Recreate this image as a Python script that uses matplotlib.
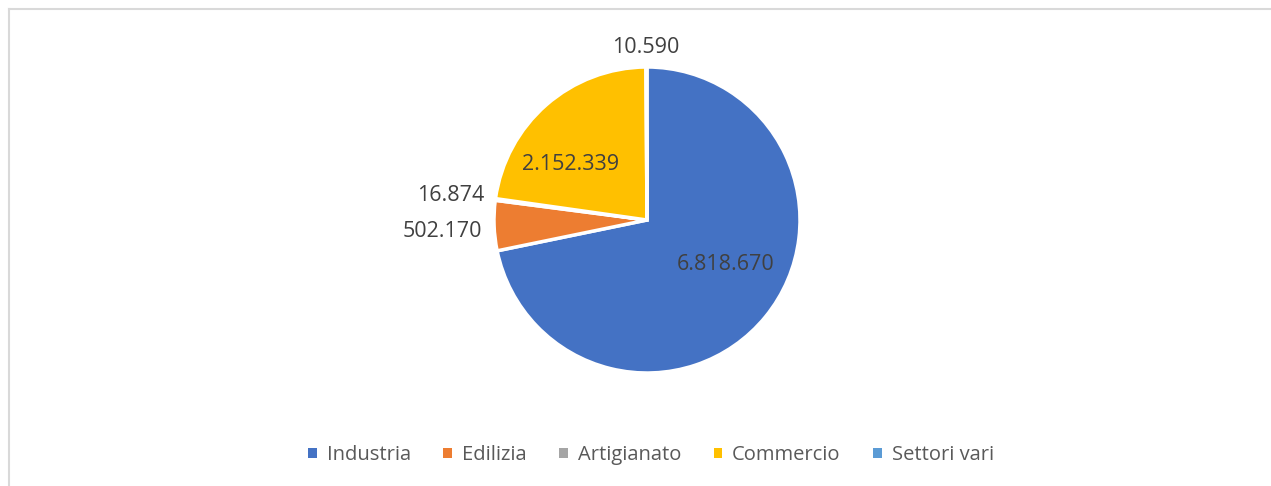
import matplotlib
matplotlib.use("Agg")
import matplotlib.pyplot as plt
from matplotlib.lines import Line2D
from matplotlib.patches import Patch
import numpy as np

categories = ["Industria", "Edilizia", "Artigianato", "Commercio", "Settori vari"]
values = [6818670, 502170, 16874, 2152339, 10590]
colors = ["#4472C4", "#ED7D31", "#A5A5A5", "#FFC000", "#5B9BD5"]

plt.rcParams['font.family'] = ['Open Sans', 'DejaVu Sans']

W, H = 1271, 486
fig = plt.figure(figsize=(W / 100, H / 100), dpi=100)

# frame lines (chart border, partially cropped)
fig.add_artist(Line2D([9 / W, 1.0], [1 - 9.5 / H, 1 - 9.5 / H], color="#D9D9D9", lw=1.5))
fig.add_artist(Line2D([9 / W, 9 / W], [0, 1 - 9.5 / H], color="#D9D9D9", lw=1.5))

cx, cy, r = 647, 220, 153
ax = fig.add_axes([(cx - r) / W, (H - cy - r) / H, 2 * r / W, 2 * r / H])
wedges, _ = ax.pie(values, colors=colors, startangle=90, counterclock=False,
                   radius=1.0, wedgeprops=dict(edgecolor="white", linewidth=2.5))
ax.set_xlim(-1, 1)
ax.set_ylim(-1, 1)
ax.set_aspect("equal")
ax.axis("off")

def fmt(v):
    return f"{v:,}".replace(",", ".")

# label positions in pie units (offset from centre) and alignments
label_pos = [(0.513, -0.29, "center"), (-1.08, -0.072, "right"), (-1.065, 0.157, "right"),
             (-0.50, 0.36, "center"), (-0.01, 1.13, "center")]
for v, (x, y, ha) in zip(values, label_pos):
    ax.text(x, y, fmt(v), ha=ha, va="center", fontsize=15.5, color="#404040")

handles = [Patch(facecolor=c, edgecolor="none") for c in colors]
fig.legend(handles, categories, loc="center", bbox_to_anchor=(651 / W, 1 - 455 / H),
           ncol=5, frameon=False, fontsize=14.5, labelcolor="#595959",
           handlelength=0.42, handleheight=0.42, handletextpad=0.5, columnspacing=1.62)

fig.savefig("out.png", dpi=100)
